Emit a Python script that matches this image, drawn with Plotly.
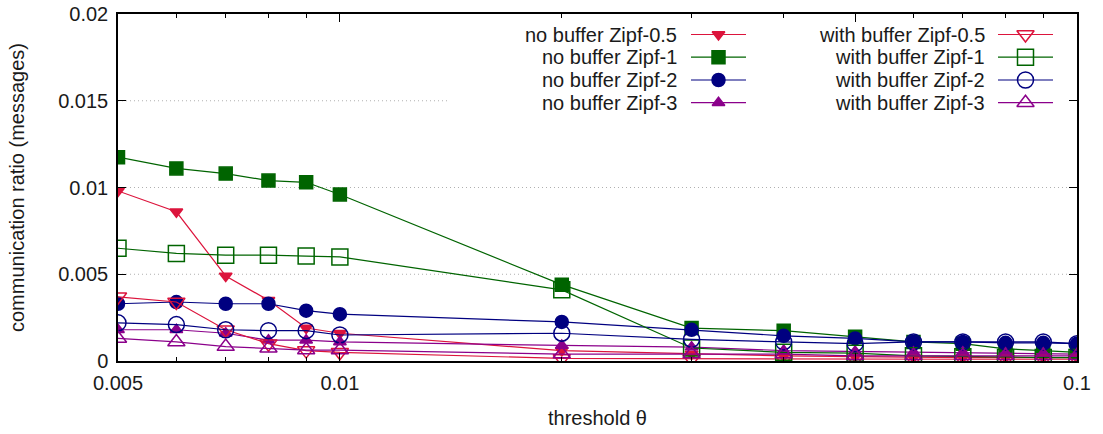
import plotly.graph_objects as go

# threshold values (log-scaled x axis)
thresholds = [0.005, 0.006, 0.007, 0.008, 0.009, 0.01, 0.02, 0.03, 0.04, 0.05,
              0.06, 0.07, 0.08, 0.09, 0.1]

# communication ratio, without buffer
nb_zipf05 = [0.0098, 0.0086, 0.0049, 0.0035, 0.0019, 0.0016, 0.0006, 0.0004, 0.0003,
             0.00025, 0.0002, 0.0002, 0.0002, 0.0002, 0.0002]
nb_zipf1 = [0.01175, 0.0111, 0.0108, 0.0104, 0.0103, 0.0096, 0.0044, 0.0019, 0.00175,
            0.0014, 0.0011, 0.001, 0.0007, 0.0006, 0.0005]
nb_zipf2 = [0.0033, 0.0034, 0.0033, 0.0033, 0.0029, 0.0027, 0.00225, 0.0018, 0.00145,
            0.0013, 0.0011, 0.0011, 0.00105, 0.00105, 0.001]
nb_zipf3 = [0.0018, 0.0018, 0.0016, 0.0012, 0.0012, 0.0011, 0.0009, 0.0008, 0.0006,
            0.00055, 0.0005, 0.0005, 0.00045, 0.00045, 0.0004]

# communication ratio, with buffer
wb_zipf05 = [0.0037, 0.0034, 0.0018, 0.001, 0.0006, 0.0005, 0.00015, 0.00012, 0.0001,
             0.0001, 0.0001, 0.0001, 0.0001, 0.0001, 0.0001]
wb_zipf1 = [0.0065, 0.0062, 0.0061, 0.0061, 0.00605, 0.006, 0.0041, 0.00075, 0.0005,
            0.00045, 0.0003, 0.00025, 0.0002, 0.0002, 0.0002]
wb_zipf2 = [0.0022, 0.0021, 0.0018, 0.00175, 0.00175, 0.0015, 0.0016, 0.00125, 0.0011,
            0.001, 0.0011, 0.0011, 0.0011, 0.0011, 0.001]
wb_zipf3 = [0.0013, 0.0011, 0.00083, 0.00073, 0.00063, 0.00063, 0.0004, 0.0004, 0.0004,
            0.0003, 0.0003, 0.0003, 0.0003, 0.0003, 0.0003]

y_tick_vals = [0, 0.005, 0.01, 0.015, 0.02]
y_tick_text = ["0", "0.005", "0.01", "0.015", "0.02"]
y_grid_vals = [0.005, 0.01, 0.015]
x_tick_vals = [0.005, 0.01, 0.05, 0.1]
x_tick_text = ["0.005", "0.01", "0.05", "0.1"]
x_minor_vals = [0.006, 0.007, 0.008, 0.009, 0.02, 0.03, 0.04, 0.06, 0.07, 0.08, 0.09]

RED = "#dc143c"
GREEN = "#006400"
BLUE = "#000080"
PURPLE = "#8b008b"
FONT = "Liberation Sans, Arial, sans-serif"

series = [
    ("no buffer Zipf-0.5", nb_zipf05, RED, "triangle-down", 11),
    ("no buffer Zipf-1", nb_zipf1, GREEN, "square", 13),
    ("no buffer Zipf-2", nb_zipf2, BLUE, "circle", 13),
    ("no buffer Zipf-3", nb_zipf3, PURPLE, "triangle-up", 11),
    ("with buffer Zipf-0.5", wb_zipf05, RED, "triangle-down-open", 15),
    ("with buffer Zipf-1", wb_zipf1, GREEN, "square-open", 16),
    ("with buffer Zipf-2", wb_zipf2, BLUE, "circle-open", 16),
    ("with buffer Zipf-3", wb_zipf3, PURPLE, "triangle-up-open", 15),
]

fig = go.Figure()

for name, vals, color, symbol, size in series:
    fig.add_trace(go.Scatter(
        x=thresholds, y=vals, name=name, mode="lines+markers",
        line=dict(color=color, width=1.2),
        marker=dict(symbol=symbol, size=size, color=color,
                    line=dict(color=color, width=1.5)),
        showlegend=False,
    ))

# key: two columns of four entries, text right-aligned before a line sample
W, H = 959.0, 347.0
x0_px, y0_px = 118.0, 361.0
col_text_px = [679.0, 987.0]
col_line_px = [(691.0, 746.0), (998.0, 1053.0)]
row_px = [34.5, 57.2, 80.0, 102.7]
key_left_px = 450.0
key_bottom_px = 112.0

def px_x(p):
    return (p - x0_px) / W

def px_y(p):
    return (y0_px - p) / H

for i, (name, vals, color, symbol, size) in enumerate(series):
    col, row = divmod(i, 4)
    yy = px_y(row_px[row])
    xa, xb = col_line_px[col]
    fig.add_trace(go.Scatter(
        x=[px_x(xa), px_x(xb)], y=[yy, yy], mode="lines",
        line=dict(color=color, width=1.2), xaxis="x2", yaxis="y2",
        showlegend=False, hoverinfo="skip",
    ))
    fig.add_trace(go.Scatter(
        x=[px_x((xa + xb) / 2)], y=[yy], mode="markers",
        marker=dict(symbol=symbol, size=size, color=color,
                    line=dict(color=color, width=1.5)),
        xaxis="x2", yaxis="y2", showlegend=False, hoverinfo="skip",
    ))
    fig.add_annotation(
        x=px_x(col_text_px[col]), y=yy, xref="paper", yref="paper",
        text=name, showarrow=False, xanchor="right", yanchor="middle",
        font=dict(family=FONT, size=20, color="#1a1a1a"),
    )

# dotted horizontal grid; lines stop where the opaque key begins
for gv in y_grid_vals:
    gy_px = y0_px - gv / 0.02 * H
    x_end = px_x(key_left_px) if gy_px < key_bottom_px else 1.0
    fig.add_shape(type="line", xref="paper", yref="y",
                  x0=0, x1=x_end, y0=gv, y1=gv, layer="below",
                  line=dict(color="#b0b0b0", width=1, dash="1px,3px"))

fig.update_layout(
    width=1103, height=434,
    margin=dict(l=118, r=26, t=14, b=73, autoexpand=False),
    paper_bgcolor="white", plot_bgcolor="white",
    font=dict(family=FONT, size=20, color="#1a1a1a"),
    xaxis=dict(
        type="log", range=[-2.30103, -1.0], automargin=False,
        tickmode="array", tickvals=x_tick_vals, ticktext=x_tick_text,
        ticks="inside", ticklen=8, tickwidth=1, tickcolor="black",
        ticklabelstandoff=3,
        minor=dict(tickmode="array", tickvals=x_minor_vals, ticks="inside",
                   ticklen=4, tickcolor="black", showgrid=False),
        showline=True, linecolor="black", linewidth=1.5, mirror="allticks",
        showgrid=False, zeroline=False,
        title=dict(text="threshold θ", standoff=18, font=dict(size=20)),
    ),
    yaxis=dict(
        range=[0, 0.02], automargin=False,
        tickmode="array", tickvals=y_tick_vals, ticktext=y_tick_text,
        ticks="inside", ticklen=8, tickwidth=1, tickcolor="black",
        ticklabelstandoff=4,
        showline=True, linecolor="black", linewidth=1.5, mirror="allticks",
        showgrid=False, zeroline=False,
        title=dict(text="communication ratio (messages)", standoff=28,
                   font=dict(size=20)),
    ),
    xaxis2=dict(overlaying="x", range=[0, 1], visible=False, fixedrange=True),
    yaxis2=dict(overlaying="y", range=[0, 1], visible=False, fixedrange=True),
)

fig.write_html("out.html")
